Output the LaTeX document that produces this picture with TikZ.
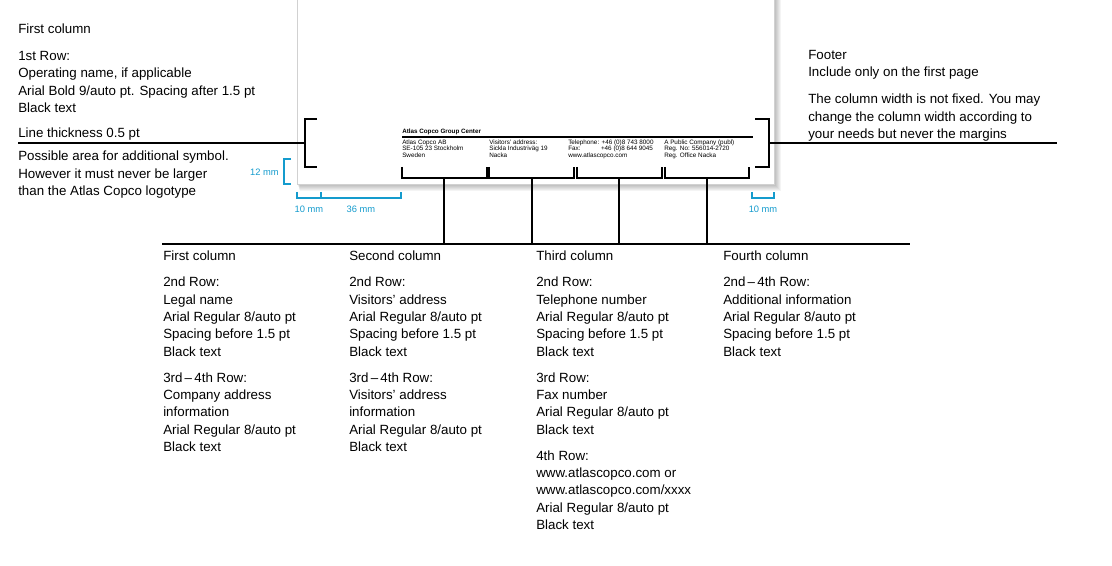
\documentclass[tikz,border=0pt]{standalone}
\usepackage{fontspec}
\setmainfont{Liberation Sans}
\definecolor{dimblue}{RGB}{20,155,205}
\begin{document}
\begin{tikzpicture}[x=0.75pt,y=-0.75pt,
  txt/.style={font=\fontsize{10}{13}\selectfont, align=left, anchor=north west, inner sep=0pt},
  tiny/.style={font=\fontsize{4.75}{4.95}\selectfont, align=left, anchor=north west, inner sep=0pt},
  tinyb/.style={font=\fontsize{4.7}{4.95}\selectfont\bfseries, anchor=base west, inner sep=0pt},
  dimlbl/.style={font=\fontsize{7}{8}\selectfont, text=dimblue, inner sep=0pt},
  rule/.style={draw=black, line width=1pt},
  dim/.style={draw=dimblue, line width=1pt}]
\useasboundingbox (0,0) rectangle (1112,566);
\clip (0,0) rectangle (1112,566);
% page with shadow
\foreach \i in {1,...,7} \fill[black, opacity=0.045] (297+0.4*\i,-10) rectangle (774+\i,184+\i);
\fill[white] (297,-10) rectangle (774,184);
\draw[black!18, line width=0.6pt] (297,-10) -- (297,184) -- (774,184) -- (774,-10);

% coordinates
\coordinate (lstart) at (18,143);
\coordinate (lbr) at (305,143);
\coordinate (rbr) at (769,143);
\coordinate (rend) at (1057,143);
\coordinate (fr1) at (402,137);
\coordinate (fr2) at (753,137);
\coordinate (bl1) at (162,244);
\coordinate (bl2) at (910,244);

% left text
\node[txt] (fc) at (18,24) {First column};
\node[txt] (row1) at (18,51) {1st Row:\\Operating name, if applicable\\Arial Bold 9/auto pt. Spacing after 1.5 pt\\Black text};
\node[txt] (lt) at (18,128) {Line thickness 0.5 pt};
\node[txt] (pa) at (18,151) {Possible area for additional symbol.\\However it must never be larger\\than the Atlas Copco logotype};
% right text
\node[txt] (ft) at (808,50) {Footer\\Include only on the first page};
\node[txt] (cw) at (808,94) {The column width is not fixed. You may\\change the column width according to\\your needs but never the margins};

% lines and brackets
\draw[rule] (lstart) -- (lbr);
\draw[rule] (317,119) -- (305,119) -- (305,167) -- (317,167);
\draw[rule] (755,119) -- (769,119) -- (769,167) -- (755,167);
\draw[rule] (rbr) -- (rend);
\draw[rule] (fr1) -- (fr2);

% footer contents
\node[tinyb] (gc) at (402,134) {Atlas Copco Group Center};
\node[tiny] (c1) at (402,139.2) {Atlas Copco AB\\SE-105 23 Stockholm\\Sweden};
\node[tiny] (c2) at (489,139.2) {Visitors’ address:\\Sickla Industriväg 19\\Nacka};
\node[tiny] (c3) at (568,139.2) {Telephone: +46 (0)8 743 8000\\\makebox[0pt][l]{Fax:}\phantom{Telephone:} +46 (0)8 644 9045\\www.atlascopco.com};
\node[tiny] (c4) at (664,139.2) {A Public Company (publ)\\Reg. No: 556014-2720\\Reg. Office Nacka};

% column brackets
\draw[rule] (402,167) -- (402,178) -- (487,178) -- (487,167);
\draw[rule] (489,167) -- (489,178) -- (574,178) -- (574,167);
\draw[rule] (577,167) -- (577,178) -- (662,178) -- (662,167);
\draw[rule] (665,167) -- (665,178) -- (749,178) -- (749,167);
\coordinate (s1) at (444,178); \coordinate (s2) at (532,178);
\coordinate (s3) at (619,178); \coordinate (s4) at (707,178);
\draw[rule] (s1) -- (s1 |- bl1);
\draw[rule] (s2) -- (s2 |- bl1);
\draw[rule] (s3) -- (s3 |- bl1);
\draw[rule] (s4) -- (s4 |- bl1);
\draw[rule] (bl1) -- (bl2);

% dimensions
\draw[dim] (291,159) -- (284,159) -- (284,184) -- (291,184);
\node[dimlbl, anchor=east] (d12) at (279,172) {12 mm};
\draw[dim] (297,192) -- (297,198) -- (401,198) -- (401,192);
\draw[dim] (321,192) -- (321,198);
\node[dimlbl] (d10a) at (309,209) {10 mm};
\node[dimlbl] (d36) at (361,209) {36 mm};
\draw[dim] (752,192) -- (752,198) -- (774,198) -- (774,192);
\node[dimlbl] (d10b) at (763,209) {10 mm};

% columns below
\node[txt] (h1) at (163,251) {First column};
\node[txt] (h2) at (349,251) {Second column};
\node[txt] (h3) at (536,251) {Third column};
\node[txt] (h4) at (723,251) {Fourth column};
\node[txt] (b1) at (163,277) {2nd Row:\\Legal name\\Arial Regular 8/auto pt\\Spacing before 1.5 pt\\Black text\\[6.5pt]3rd\,–\,4th Row:\\Company address\\information\\Arial Regular 8/auto pt\\Black text};
\node[txt] (b2) at (349,277) {2nd Row:\\Visitors’ address\\Arial Regular 8/auto pt\\Spacing before 1.5 pt\\Black text\\[6.5pt]3rd\,–\,4th Row:\\Visitors’ address\\information\\Arial Regular 8/auto pt\\Black text};
\node[txt] (b3) at (536,277) {2nd Row:\\Telephone number\\Arial Regular 8/auto pt\\Spacing before 1.5 pt\\Black text\\[6.5pt]3rd Row:\\Fax number\\Arial Regular 8/auto pt\\Black text\\[6.5pt]4th Row:\\www.atlascopco.com or\\www.atlascopco.com/xxxx\\Arial Regular 8/auto pt\\Black text};
\node[txt] (b4) at (723,277) {2nd\,–\,4th Row:\\Additional information\\Arial Regular 8/auto pt\\Spacing before 1.5 pt\\Black text};
\end{tikzpicture}
\end{document}
